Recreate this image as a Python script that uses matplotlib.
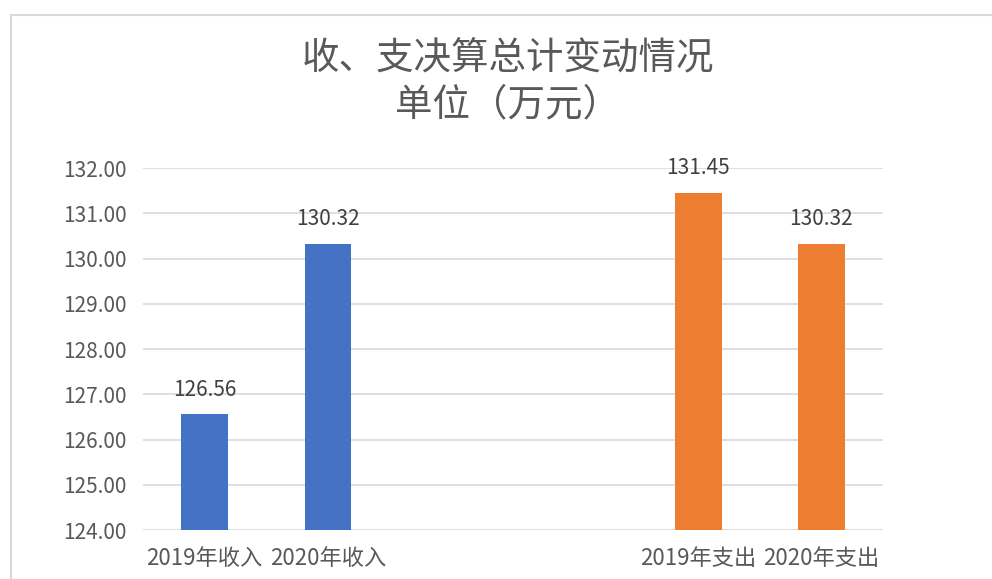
import matplotlib.pyplot as plt
from matplotlib.patches import Rectangle

plt.rcParams['font.family'] = ['Noto Sans CJK SC', 'DejaVu Sans']

# 數據
categories = ['2019年收入', '2020年收入', '2019年支出', '2020年支出']
values = [126.56, 130.32, 131.45, 130.32]
slots = [0, 1, 4, 5]  # 中間兩格留空
bar_colors = ['#4472C4', '#4472C4', '#ED7D31', '#ED7D31']
y_ticks = [124, 125, 126, 127, 128, 129, 130, 131, 132]

text_color = '#595959'
grid_color = '#d9d9d9'

fig = plt.figure(figsize=(9.92, 5.79), dpi=100)
ax = fig.add_axes([0.1442, 0.0846, 0.7460, 0.6252])

# 外框
fig.patches.append(Rectangle((11 / 992, -0.1), 1.2, 1 - 15 / 579 + 0.1,
                             transform=fig.transFigure, fill=False,
                             edgecolor=grid_color, linewidth=1.5))

ax.bar(slots, values, width=0.38, bottom=0, color=bar_colors, zorder=3)
for x, v in zip(slots, values):
    ax.text(x, v + 0.3, f'{v:.2f}', ha='center', va='bottom',
            fontsize=15, color='#404040')

ax.set_xlim(-0.5, 5.5)
ax.set_ylim(124, 132)
ax.set_yticks(y_ticks)
ax.set_yticklabels([f'{t:.2f}' for t in y_ticks], fontsize=15, color=text_color)
ax.set_xticks(slots)
ax.set_xticklabels(categories, fontsize=16, color=text_color)
ax.tick_params(length=0)
ax.tick_params(axis='x', pad=12)
ax.tick_params(axis='y', pad=12)
ax.yaxis.grid(True, color=grid_color, linewidth=1.2, zorder=0)
for s in ax.spines.values():
    s.set_visible(False)

fig.text(0.512, 0.898, '收、支决算总计变动情况', ha='center', va='center',
         fontsize=27, color=text_color, fontweight='light')
fig.text(0.512, 0.818, '单位（万元）', ha='center', va='center',
         fontsize=27, color=text_color, fontweight='light')

fig.savefig('out.png', dpi=100)
